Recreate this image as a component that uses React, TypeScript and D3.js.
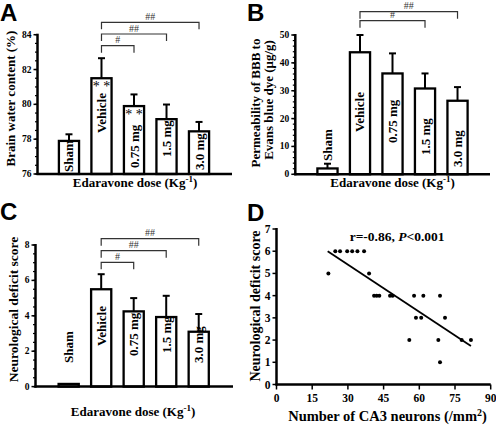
import React from "react";
import * as d3 from "d3";

// ---------- data ----------
const groups = ["Sham", "Vehicle", "0.75 mg", "1.5 mg", "3.0 mg"];

const waterMean = [77.9, 81.5, 79.9, 79.15, 78.45];
const waterErr = [0.38, 1.15, 0.67, 0.84, 0.54];
const waterTicks = [76, 78, 80, 82, 84];
const waterStars = ["", "* *", "* *", "", ""];
const waterSigTo = ["0.75 mg", "1.5 mg", "3.0 mg"];
const waterSigMark = ["#", "##", "##"];

const ebdMean = [2.1, 43.8, 36.2, 30.8, 26.4];
const ebdErr = [1.7, 6.2, 7.2, 5.4, 4.9];
const ebdTicks = [0, 10, 20, 30, 40, 50];
const ebdSigTo = ["1.5 mg", "3.0 mg"];
const ebdSigMark = ["#", "##"];

const ndsMean = [0.15, 5.5, 4.25, 3.93, 3.1];
const ndsErr = [0, 0.85, 0.75, 1.2, 1.0];
const ndsTicks = [0, 2, 4, 6, 8];
const ndsSigTo = ["0.75 mg", "1.5 mg", "3.0 mg"];
const ndsSigMark = ["#", "##", "##"];

const ca3Neurons = [21.8, 24.7, 26.7, 29.7, 31.8, 34.0, 36.8, 38.9, 41.0, 42.1, 43.2, 47.7, 48.8,
  57.8, 61.7, 68.7, 58.6, 60.8, 70.8, 55.8, 68.0, 77.8, 81.7, 68.7];
const ca3Score = [5, 6, 6, 6, 6, 6, 6, 5, 4, 4, 4, 4, 4, 4, 4, 4, 3, 3, 3, 2, 2, 2, 2, 1];
const fitX = [21.5, 81.7];
const fitY = [6.0, 1.73];
const scatterXTicks = [0, 15, 30, 45, 60, 75, 90];
const scatterYTicks = [0, 1, 2, 3, 4, 5, 6, 7];

// ---------- layout ----------
const SERIF = "'Liberation Serif', 'Times New Roman', serif";
const SANS = "'Liberation Sans', Arial, sans-serif";

type BarCfg = {
  mean: number[]; err: number[]; ticks: number[]; domain: [number, number]; minor: number;
  axisX: number; yTop: number; yBot: number; band: [number, number]; xEnd: number;
  sigTo: string[]; sigMark: string[]; sigY: number[]; labelBase: number[];
  stars?: string[]; starY?: number[];
};

const cfgA: BarCfg = {
  mean: waterMean, err: waterErr, ticks: waterTicks, domain: [76, 84], minor: 0.5,
  axisX: 37.5, yTop: 34.7, yBot: 174, band: [58.9, 209.1], xEnd: 232,
  sigTo: waterSigTo, sigMark: waterSigMark, sigY: [45.7, 34, 22.3],
  labelBase: [172, 133, 168, 157, 170], stars: waterStars, starY: [0, 91, 119, 0, 0],
};
const cfgB: BarCfg = {
  mean: ebdMean, err: ebdErr, ticks: ebdTicks, domain: [0, 50], minor: 2,
  axisX: 295.3, yTop: 35, yBot: 174.3, band: [317.4, 467.6], xEnd: 490,
  sigTo: ebdSigTo, sigMark: ebdSigMark, sigY: [20.7, 11.7],
  labelBase: [161, 132, 143, 155, 167],
};
const cfgC: BarCfg = {
  mean: ndsMean, err: ndsErr, ticks: ndsTicks, domain: [0, 8], minor: 0.5,
  axisX: 35.5, yTop: 245, yBot: 386.6, band: [58.6, 208.8], xEnd: 233,
  sigTo: ndsSigTo, sigMark: ndsSigMark, sigY: [262.3, 250.7, 238.7],
  labelBase: [363, 346, 356, 353, 363],
};

function BarPanel({ c }: { c: BarCfg }) {
  const y = d3.scaleLinear().domain(c.domain).range([c.yBot, c.yTop]);
  const x = d3.scaleBand().domain(groups).range(c.band).paddingInner(0.38).paddingOuter(0);
  const bw = x.bandwidth();
  const cx = (g: string) => (x(g) as number) + bw / 2;
  const minor = d3.range(c.domain[0], c.domain[1] + 1e-9, c.minor);
  return (
    <g>
      {minor.map((v, i) => (
        <line key={"m" + i} x1={c.axisX - 2.5} x2={c.axisX} y1={y(v)} y2={y(v)} stroke="#000" strokeWidth={1.2} />
      ))}
      {c.ticks.map((v) => (
        <g key={"t" + v}>
          <line x1={c.axisX - 4} x2={c.axisX} y1={y(v)} y2={y(v)} stroke="#000" strokeWidth={1.5} />
          <text x={c.axisX - 6} y={y(v)} textAnchor="end" dominantBaseline="central"
            fontFamily={SERIF} fontWeight="bold" fontSize={9.5}>{v}</text>
        </g>
      ))}
      {groups.map((g, i) => {
        const top = y(c.mean[i]);
        const cap = y(c.mean[i] + c.err[i]);
        return (
          <g key={g}>
            {c.err[i] > 0 && (
              <g>
                <line x1={cx(g)} x2={cx(g)} y1={top} y2={cap} stroke="#000" strokeWidth={2} />
                <line x1={cx(g) - 3.5} x2={cx(g) + 3.5} y1={cap} y2={cap} stroke="#000" strokeWidth={2} />
              </g>
            )}
            <rect x={x(g)} y={top} width={bw} height={c.yBot - top} fill="#fff" stroke="#000" strokeWidth={2.3} />
            <text transform={`translate(${cx(g)},${c.labelBase[i]}) rotate(-90)`} dominantBaseline="central"
              fontFamily={SERIF} fontWeight="bold" fontSize={13}>{g}</text>
            {c.stars && c.stars[i] && (
              <text x={cx(g)} y={c.starY![i]} textAnchor="middle" fontFamily={SERIF} fontSize={14}
                style={{ whiteSpace: "pre" }}>
                {c.stars[i]}
              </text>
            )}
          </g>
        );
      })}
      <line x1={c.axisX} x2={c.axisX} y1={c.yTop - 1} y2={c.yBot + 1} stroke="#000" strokeWidth={2.5} />
      <line x1={c.axisX - 1} x2={c.xEnd} y1={c.yBot} y2={c.yBot} stroke="#000" strokeWidth={2.5} />
      {c.sigTo.map((g, i) => {
        const x1 = cx("Vehicle"), x2 = cx(g), yy = c.sigY[i];
        return (
          <g key={"s" + i}>
            <path d={`M${x1},${yy + 7}V${yy}H${x2}V${yy + 7}`} fill="none" stroke="#333" strokeWidth={1.2} />
            <text x={(x1 + x2) / 2} y={yy - 2.5} textAnchor="middle" fontFamily={SERIF} fontSize={10} fill="#333">
              {c.sigMark[i]}
            </text>
          </g>
        );
      })}
    </g>
  );
}

function XLabel({ x, y }: { x: number; y: number }) {
  return (
    <text x={x} y={y} textAnchor="middle" fontFamily={SERIF} fontWeight="bold" fontSize={13}>
      Edaravone dose (Kg<tspan dy={-5} fontSize={9}>-1</tspan><tspan dy={5}>)</tspan>
    </text>
  );
}

function YLabel({ x, y, text, size = 13 }: { x: number; y: number; text: string; size?: number }) {
  return (
    <text transform={`translate(${x},${y}) rotate(-90)`} textAnchor="middle" dominantBaseline="central"
      fontFamily={SERIF} fontWeight="bold" fontSize={size}>{text}</text>
  );
}

function Scatter() {
  const x = d3.scaleLinear().domain([0, 90]).range([276.5, 490.7]);
  const y = d3.scaleLinear().domain([0, 7]).range([384.5, 229]);
  const line = d3.line<number>().x((d) => x(fitX[d])).y((d) => y(fitY[d]));
  return (
    <g>
      {scatterYTicks.map((v) => (
        <g key={"y" + v}>
          <line x1={x(0) - 4} x2={x(0)} y1={y(v)} y2={y(v)} stroke="#000" strokeWidth={1.5} />
          <text x={x(0) - 6} y={y(v)} textAnchor="end" dominantBaseline="central"
            fontFamily={SERIF} fontWeight="bold" fontSize={11.5}>{v}</text>
        </g>
      ))}
      {scatterXTicks.map((v) => (
        <g key={"x" + v}>
          <line x1={x(v)} x2={x(v)} y1={y(0)} y2={y(0) + 5} stroke="#000" strokeWidth={1.5} />
          <text x={x(v)} y={y(0) + 13.5} textAnchor="middle" dominantBaseline="central"
            fontFamily={SERIF} fontWeight="bold" fontSize={11.5}>{v}</text>
        </g>
      ))}
      <line x1={x(0)} x2={x(0)} y1={y(7) - 1} y2={y(0) + 1} stroke="#000" strokeWidth={2.5} />
      <line x1={x(0) - 1} x2={x(90)} y1={y(0)} y2={y(0)} stroke="#000" strokeWidth={2.5} />
      <path d={line([0, 1]) || ""} fill="none" stroke="#000" strokeWidth={1.8} />
      {ca3Neurons.map((v, i) => (
        <circle key={i} cx={x(v)} cy={y(ca3Score[i])} r={2} fill="#000" />
      ))}
      <text x={349.7} y={240.5} fontFamily={SERIF} fontWeight="bold" fontSize={13.5}>
        r=-0.86, <tspan fontStyle="italic">P</tspan>&lt;0.001
      </text>
    </g>
  );
}

export default function App() {
  return (
    <svg width={496} height={426} viewBox="0 0 496 426"
      style={{ position: "absolute", left: 0, top: 0, background: "#fff" }}>
      <rect width={496} height={426} fill="#fff" />
      <BarPanel c={cfgA} />
      <BarPanel c={cfgB} />
      <BarPanel c={cfgC} />
      <Scatter />
      <text x={0} y={21} fontFamily={SANS} fontWeight="bold" fontSize={24}>A</text>
      <text x={247} y={21} fontFamily={SANS} fontWeight="bold" fontSize={24}>B</text>
      <text x={0} y={220} fontFamily={SANS} fontWeight="bold" fontSize={24}>C</text>
      <text x={247} y={221} fontFamily={SANS} fontWeight="bold" fontSize={24}>D</text>
      <YLabel x={10} y={98.5} text="Brain water content (%)" />
      <YLabel x={255} y={103} text="Permeability of BBB to" />
      <YLabel x={268.5} y={100} text="Evans blue dye (μg/g)" />
      <YLabel x={13} y={309.5} text="Neurological deficit score" size={13.5} />
      <YLabel x={255.5} y={306} text="Neurological deficit score" size={14} />
      <XLabel x={135} y={187} />
      <XLabel x={392.5} y={187} />
      <XLabel x={133} y={416} />
      <text x={387.5} y={421} textAnchor="middle" fontFamily={SERIF} fontWeight="bold" fontSize={14.5}>
        Number of CA3 neurons (/mm<tspan dy={-5} fontSize={10}>2</tspan><tspan dy={5}>)</tspan>
      </text>
    </svg>
  );
}
